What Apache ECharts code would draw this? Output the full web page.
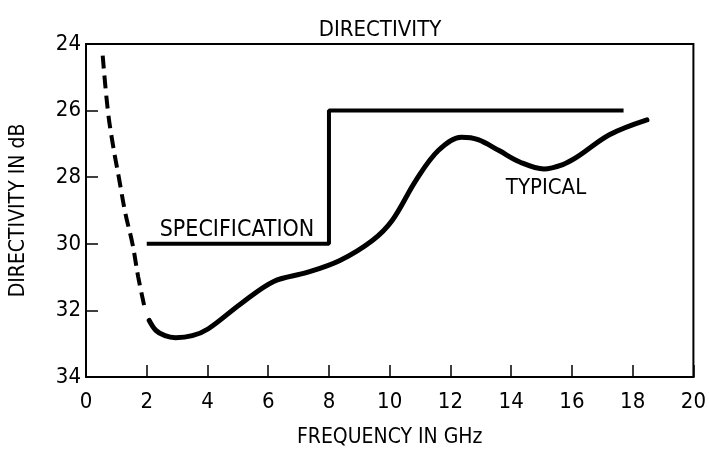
<!DOCTYPE html>
<html>
<head>
<meta charset="utf-8">
<style>html,body{margin:0;padding:0;background:#fff;}#c{width:709px;height:453px;}</style>
<script src="https://cdn.jsdelivr.net/npm/echarts@6/dist/echarts.min.js"></script>
</head>
<body>
<div id="c"></div>
<script>
// Data (frequency in GHz, directivity in dB)
const xTicks = [0, 2, 4, 6, 8, 10, 12, 14, 16, 18, 20];
const yTicks = [24, 26, 28, 30, 32, 34];
const specX = [2, 8, 8, 17.7];
const specY = [30, 30, 26, 26];
const typicalDashedX = [0.55, 0.72, 0.9, 1.08, 1.3, 1.53, 1.72, 1.95];
const typicalDashedY = [24.35, 26.0, 27.1, 28.0, 29.1, 30.0, 31.0, 32.0];
const typicalX = [2.08, 2.3, 2.6, 2.95, 3.5, 4.03, 5.1, 6.18, 7.28, 8.36, 9.43, 10.08, 10.86, 11.6, 12.36, 12.91, 13.6, 14.3, 15.08, 15.7, 16.16, 17.25, 18.47];
const typicalY = [32.3, 32.6, 32.76, 32.82, 32.76, 32.55, 31.8, 31.13, 30.86, 30.5, 29.9, 29.3, 28.1, 27.2, 26.8, 26.87, 27.2, 27.55, 27.75, 27.62, 27.4, 26.72, 26.28];

const FONT = '"Liberation Sans Narrow", "DejaVu Sans Condensed", "Liberation Sans", sans-serif';
const zip = (xs, ys) => xs.map((x, i) => [x, ys[i]]);

const chart = echarts.init(document.getElementById('c'), null, {renderer: 'canvas'});
chart.setOption({
  backgroundColor: '#fff',
  animation: false,
  grid: {left: 83, top: 44, right: 11, bottom: 71, show: true, borderColor: '#000', borderWidth: 2, backgroundColor: 'transparent'},
  xAxis: {
    type: 'value', min: xTicks[0], max: xTicks[xTicks.length - 1], interval: 2,
    axisLine: {show: true, lineStyle: {color: '#000', width: 2}},
    axisTick: {show: true, inside: true, length: 12, lineStyle: {color: '#000', width: 1.5}},
    axisLabel: {color: '#000', fontFamily: FONT, fontSize: 22, margin: 14},
    splitLine: {show: false},
    name: 'FREQUENCY IN GHz', nameLocation: 'middle', nameGap: 50,
    nameTextStyle: {color: '#000', fontFamily: FONT, fontSize: 21}
  },
  yAxis: {
    type: 'value', inverse: true, min: yTicks[0], max: yTicks[yTicks.length - 1], interval: 2,
    axisLine: {show: true, lineStyle: {color: '#000', width: 2}},
    axisTick: {show: true, inside: true, length: 12, lineStyle: {color: '#000', width: 1.5}},
    axisLabel: {color: '#000', fontFamily: FONT, fontSize: 22, margin: 5},
    splitLine: {show: false},
    name: 'DIRECTIVITY IN dB', nameLocation: 'middle', nameGap: 57, nameRotate: 90,
    nameTextStyle: {color: '#000', fontFamily: FONT, fontSize: 21}
  },
  title: {
    text: 'DIRECTIVITY', left: 375, top: 14, textAlign: 'center',
    textStyle: {color: '#000', fontFamily: FONT, fontSize: 22, fontWeight: 'normal'}
  },
  graphic: [
    {type: 'text', style: {x: 237, y: 230, text: 'SPECIFICATION', align: 'center', verticalAlign: 'middle', fill: '#000', font: '23px ' + FONT}},
    {type: 'text', style: {x: 546, y: 188, text: 'TYPICAL', align: 'center', verticalAlign: 'middle', fill: '#000', font: '22px ' + FONT}}
  ],
  series: [
    {type: 'line', data: zip(specX, specY), symbol: 'none', lineStyle: {color: '#000', width: 4}},
    {type: 'line', data: zip(typicalDashedX, typicalDashedY), symbol: 'none', smooth: 0.4,
      lineStyle: {color: '#000', width: 4, type: [13, 7]}},
    {type: 'line', data: zip(typicalX, typicalY), symbol: 'none', smooth: 0.35,
      lineStyle: {color: '#000', width: 5, cap: 'round'}}
  ]
});
</script>
</body>
</html>
